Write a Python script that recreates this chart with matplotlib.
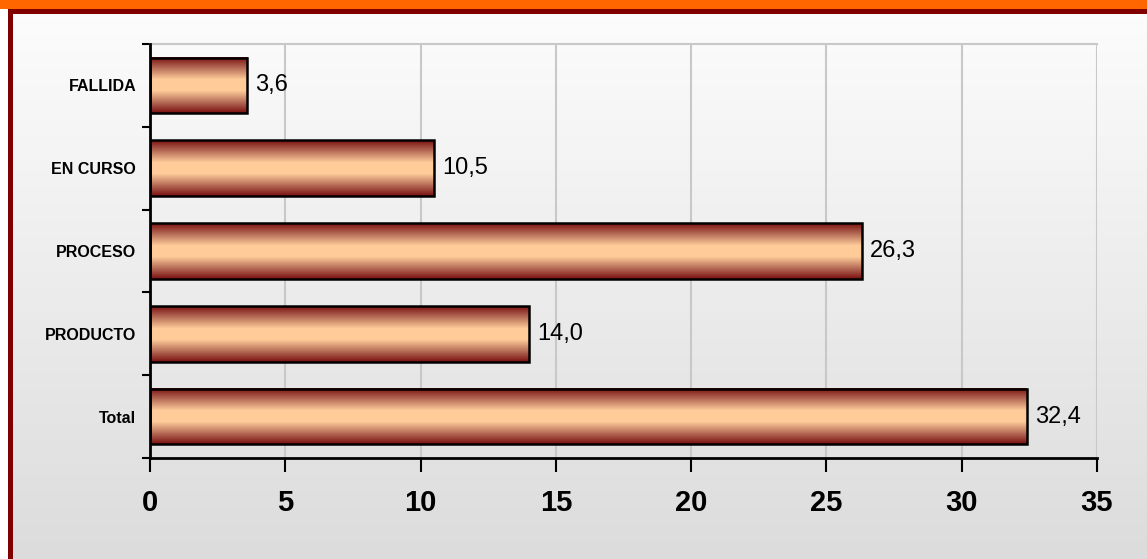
import numpy as np
import matplotlib.pyplot as plt
from matplotlib.colors import LinearSegmentedColormap
from matplotlib.patches import Rectangle

# Datos del gráfico
categorias = ['Total', 'PRODUCTO', 'PROCESO', 'EN CURSO', 'FALLIDA']
valores = [32.4, 14.0, 26.3, 10.5, 3.6]
ticks_x = [0, 5, 10, 15, 20, 25, 30, 35]

plt.rcParams['font.family'] = ['Liberation Sans', 'DejaVu Sans']

fig = plt.figure(figsize=(11.47, 5.59), dpi=100)

# Fondo degradado de la figura (claro arriba, gris abajo)
fondo = fig.add_axes([0, 0, 1, 1], zorder=-10)
grad = np.linspace(0, 1, 256).reshape(-1, 1)
cmap_fondo = LinearSegmentedColormap.from_list('fondo', ['#fdfdfd', '#dcdcdc'])
fondo.imshow(grad, cmap=cmap_fondo, aspect='auto', extent=[0, 1, 1, 0], origin='upper')
fondo.set_xlim(0, 1)
fondo.set_ylim(1, 0)
fondo.axis('off')

# Bordes: banda naranja arriba, marco rojo oscuro
W, H = 1147, 559
fig.patches.append(Rectangle((0, 0), 8 / W, 1 - 9 / H, transform=fig.transFigure,
                             facecolor='white', edgecolor='none', zorder=-5))
fig.patches.append(Rectangle((0, 1 - 9 / H), 1, 9 / H, transform=fig.transFigure,
                             facecolor='#ff6600', edgecolor='none', zorder=-5))
fig.patches.append(Rectangle((8 / W, 1 - 14 / H), 1, 5 / H, transform=fig.transFigure,
                             facecolor='#800000', edgecolor='none', zorder=-5))
fig.patches.append(Rectangle((8 / W, 0), 5 / W, 1 - 9 / H, transform=fig.transFigure,
                             facecolor='#800000', edgecolor='none', zorder=-5))

ax = fig.add_axes([150 / W, 1 - 458 / H, (1097 - 150) / W, (458 - 44) / H])
ax.patch.set_alpha(0)

# Barras con degradado
cmap_barra = LinearSegmentedColormap.from_list(
    'barra', ['#7a1010', '#b8705a', '#ffcc99', '#ffcc99', '#b8705a', '#7a1010'])
grad_barra = np.linspace(0, 1, 200).reshape(-1, 1)
alto = 0.67
pos = np.arange(len(categorias))
for y, v in zip(pos, valores):
    ax.imshow(grad_barra, cmap=cmap_barra, aspect='auto',
              extent=[0, v, y - alto / 2, y + alto / 2], zorder=3)
    ax.text(v + 0.3, y, f'{v:.1f}'.replace('.', ','), va='center', ha='left',
            fontsize=17, color='black', zorder=5)
ax.barh(pos, valores, height=alto, facecolor='none', edgecolor='black',
        linewidth=1.8, zorder=4)

ax.set_xlim(0, 35)
ax.set_ylim(-0.5, len(categorias) - 0.5)
ax.set_xticks(ticks_x)
ax.set_xticklabels([str(t) for t in ticks_x], fontsize=21, fontweight='bold')
ax.set_yticks(pos)
ax.set_yticklabels(categorias, fontsize=11.5, fontweight='bold')
ax.set_yticks(np.arange(-0.5, len(categorias), 1), minor=True)
ax.tick_params(axis='y', which='major', length=0, pad=10)
ax.tick_params(axis='y', which='minor', length=6, width=1.5, direction='out')
ax.tick_params(axis='x', length=10, width=1.5, direction='out', pad=12)

ax.grid(axis='x', color='#c8c8c8', linewidth=1.5, zorder=0)
ax.set_axisbelow(True)
ax.spines['top'].set_color('#c8c8c8')
ax.spines['top'].set_linewidth(1.5)
ax.spines['right'].set_visible(False)
for lado in ['left', 'bottom']:
    ax.spines[lado].set_linewidth(2)
    ax.spines[lado].set_zorder(6)

fig.savefig('out.png', dpi=100)
